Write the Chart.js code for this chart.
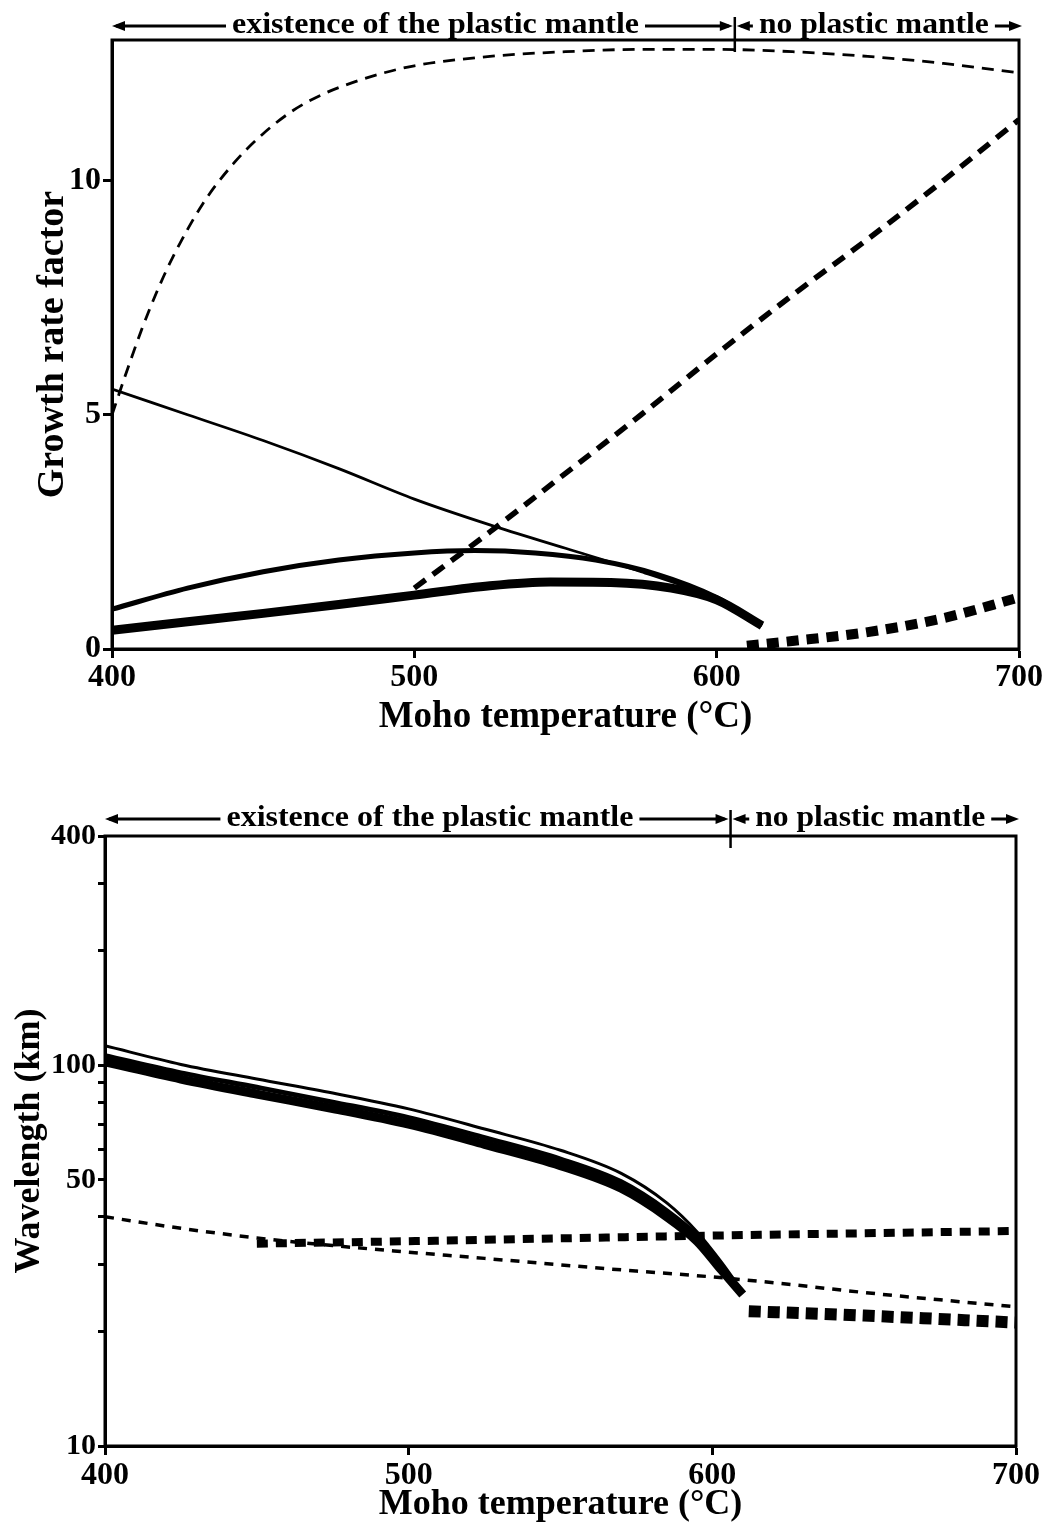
<!DOCTYPE html>
<html>
<head>
<meta charset="utf-8">
<script src="https://cdn.jsdelivr.net/npm/chart.js@4/dist/chart.umd.min.js"></script>
<style>
  html, body { margin: 0; padding: 0; background: #fff; }
  #wrap { position: relative; width: 1047px; height: 1533px; }
  canvas { position: absolute; left: 0; }
</style>
</head>
<body>
<div id="wrap">
  <canvas id="growthChart" width="1047" height="770" style="top:0px"></canvas>
  <canvas id="waveChart" width="1047" height="763" style="top:770px"></canvas>
</div>
<script>
// axis ticks
const tempTicks = [400, 500, 600, 700];
const growthTicks = [0, 5, 10];
const waveTicks = [10, 20, 30, 40, 50, 60, 70, 80, 90, 100, 200, 300, 400];
const waveLabels = [10, 50, 100, 400];
const plasticLimit = 606; // boundary plastic / no plastic mantle

// top panel - growth rate factor
const gThinDashT = [400, 405, 410, 415, 420, 430, 440, 450, 460, 470, 480, 490, 500, 525, 550, 575, 600, 625, 650, 675, 700];
const gThinDash = [5.0, 5.95, 6.85, 7.65, 8.35, 9.5, 10.35, 11.0, 11.5, 11.85, 12.1, 12.3, 12.45, 12.65, 12.75, 12.8, 12.8, 12.75, 12.65, 12.5, 12.3];
const gThinT = [400, 425, 450, 475, 500, 525, 550, 575, 595, 605, 615];
const gThin = [5.55, 5.0, 4.45, 3.85, 3.2, 2.65, 2.15, 1.65, 1.2, 0.9, 0.5];
const gMidT = [400, 425, 450, 475, 500, 520, 540, 560, 580, 600, 615];
const gMid = [0.85, 1.3, 1.65, 1.9, 2.05, 2.1, 2.05, 1.9, 1.6, 1.1, 0.5];
const gThickT = [400, 425, 450, 475, 500, 525, 545, 565, 585, 600, 615];
const gThick = [0.4, 0.58, 0.76, 0.95, 1.15, 1.35, 1.43, 1.42, 1.3, 1.05, 0.5];
const gDashT = [500, 525, 550, 575, 600, 625, 650, 675, 700];
const gDash = [1.3, 2.5, 3.75, 5.0, 6.3, 7.55, 8.75, 10.0, 11.3];
const gBigDashT = [610, 625, 650, 675, 700];
const gBigDash = [0.07, 0.17, 0.36, 0.66, 1.1];

// bottom panel - wavelength (km)
const wThinDashT = [400, 425, 450, 475, 500, 525, 550, 575, 600, 625, 650, 675, 700];
const wThinDash = [40, 37.3, 35.2, 33.6, 32.3, 31.1, 29.9, 28.8, 27.8, 26.6, 25.3, 24.2, 23.2];
const wSolidT = [400, 425, 450, 475, 500, 525, 550, 570, 585, 595, 603, 610];
const wThin = [112.5, 100.5, 92, 84.5, 76.8, 68, 59.8, 52, 43.5, 36.5, 30.4, 25.4];
const wMid = [106, 95.5, 87.5, 80, 72.8, 64.5, 56.7, 49.4, 41.5, 35.6, 29.7, 25.2];
const wThick = [102, 92, 84, 77, 70, 62, 54.5, 47.5, 40, 34.5, 29, 25];
const wDashT = [450, 500, 550, 600, 650, 700];
const wDash = [34.0, 34.5, 35.1, 35.7, 36.2, 36.7];
const wBigDashT = [612, 650, 700];
const wBigDash = [22.6, 22.0, 21.1];

const serif = 'Liberation Serif';
const pts = (xs, ys) => xs.map((x, i) => ({x: x, y: ys[i]}));

function line(xs, ys, width, dash) {
  return {
    data: pts(xs, ys),
    borderColor: '#000',
    borderWidth: width,
    borderDash: dash || [],
    borderCapStyle: 'butt',
    pointRadius: 0,
    tension: 0.4,
    cubicInterpolationMode: 'monotone'
  };
}

function arrowHead(ctx, x, y, dir) {
  ctx.beginPath();
  ctx.moveTo(x, y);
  ctx.lineTo(x - dir * 13, y - 5);
  ctx.lineTo(x - dir * 13, y + 5);
  ctx.closePath();
  ctx.fill();
}

function stretchText(ctx, text, cx, base, width) {
  const m = ctx.measureText(text).width;
  ctx.fillStyle = '#fff';
  ctx.fillRect(cx - width / 2 - 6, base - 30, width + 12, 28);
  ctx.fillStyle = '#000';
  ctx.save();
  ctx.translate(cx, base);
  ctx.scale(width / m, 1);
  ctx.fillText(text, 0, 0);
  ctx.restore();
}

// frame box + regime arrows above the plot
const framePlugin = {
  id: 'frame',
  afterDraw(chart, args, opts) {
    const ctx = chart.ctx, a = chart.chartArea, x = chart.scales.x;
    ctx.save();
    ctx.strokeStyle = '#000';
    ctx.fillStyle = '#000';
    ctx.lineWidth = 3;
    ctx.strokeRect(a.left, a.top, a.right - a.left, a.bottom - a.top);

    const ay = a.top - opts.gap;
    const xl = x.getPixelForValue(400), xm = x.getPixelForValue(plasticLimit), xr = x.getPixelForValue(700);
    ctx.lineWidth = 3;
    ctx.beginPath();
    ctx.moveTo(xl + 4, ay); ctx.lineTo(xm - 6, ay);
    ctx.moveTo(xm + 6, ay); ctx.lineTo(xr - 4, ay);
    ctx.stroke();
    arrowHead(ctx, xl, ay, -1);
    arrowHead(ctx, xm - 2, ay, 1);
    arrowHead(ctx, xm + 2, ay, -1);
    arrowHead(ctx, xr + 3, ay, 1);
    ctx.lineWidth = 2.5;
    ctx.beginPath();
    ctx.moveTo(xm, ay - 9); ctx.lineTo(xm, a.top + 12);
    ctx.stroke();

    ctx.font = 'bold 30px "' + serif + '"';
    ctx.textAlign = 'center';
    ctx.textBaseline = 'alphabetic';
    stretchText(ctx, 'existence of the plastic mantle', x.getPixelForValue(507), ay + 7, 407);
    stretchText(ctx, 'no plastic mantle', x.getPixelForValue(652), ay + 7, 230);
    ctx.restore();
  }
};

function xAxis(height, labelPad, titlePad, titleSize) {
  return {
    type: 'linear', min: 400, max: 700,
    afterFit: s => { s.height = height; },
    afterBuildTicks: s => { s.ticks = tempTicks.map(v => ({value: v})); },
    grid: { drawOnChartArea: false, tickLength: 9, tickWidth: 3, color: '#000' },
    border: { display: true, width: 3, color: '#000' },
    ticks: { color: '#000', padding: labelPad, maxRotation: 0,
             font: { family: serif, weight: 'bold', size: 32, lineHeight: 1 } },
    title: { display: true, text: 'Moho temperature (°C)', color: '#000',
             padding: { top: 0, bottom: titlePad },
             font: { family: serif, weight: 'bold', size: titleSize, lineHeight: 1 } }
  };
}

const common = {
  responsive: false,
  animation: false,
  devicePixelRatio: 1,
  events: [],
  plugins: { legend: { display: false }, tooltip: { enabled: false } }
};

new Chart(document.getElementById('growthChart'), {
  type: 'line',
  data: {
    datasets: [
      line(gThinDashT, gThinDash, 2.8, [12, 8]),
      line(gThinT, gThin, 2.8),
      line(gMidT, gMid, 5),
      line(gThickT, gThick, 9),
      line(gDashT, gDash, 5.5, [14, 9]),
      line(gBigDashT, gBigDash, 10, [12, 8])
    ]
  },
  options: Object.assign({}, common, {
    layout: { padding: { top: 40, right: 27, left: 0, bottom: 0 } },
    plugins: Object.assign({}, common.plugins, { frame: { gap: 14 } }),
    scales: {
      x: xAxis(121, 4, 34, 37),
      y: {
        type: 'linear', min: 0, max: 13,
        afterFit: s => { s.width = 112; },
        afterBuildTicks: s => { s.ticks = growthTicks.map(v => ({value: v})); },
        grid: { drawOnChartArea: false, tickLength: 9, tickWidth: 3, color: '#000' },
        border: { display: true, width: 3, color: '#000' },
        ticks: { color: '#000', padding: 2,
                 font: { family: serif, weight: 'bold', size: 32, lineHeight: 1 } },
        title: { display: true, text: 'Growth rate factor', color: '#000',
                 padding: { top: 34, bottom: 0 },
                 font: { family: serif, weight: 'bold', size: 38, lineHeight: 1 } }
      }
    }
  }),
  plugins: [framePlugin]
});

new Chart(document.getElementById('waveChart'), {
  type: 'line',
  data: {
    datasets: [
      line(wSolidT, wThin, 3),
      line(wSolidT, wMid, 5),
      line(wSolidT, wThick, 9),
      line(wThinDashT, wThinDash, 3.5, [9, 8]),
      line(wDashT, wDash, 8, [11, 8]),
      line(wBigDashT, wBigDash, 12, [12, 7])
    ]
  },
  options: Object.assign({}, common, {
    layout: { padding: { top: 66, right: 31, left: 0, bottom: 0 } },
    plugins: Object.assign({}, common.plugins, { frame: { gap: 17 } }),
    scales: {
      x: xAxis(87, 5, 10, 36),
      y: {
        type: 'logarithmic', min: 10, max: 400,
        afterFit: s => { s.width = 105; },
        afterBuildTicks: s => { s.ticks = waveTicks.map(v => ({value: v})); },
        grid: { drawOnChartArea: false, tickLength: 7, tickWidth: 3, color: '#000' },
        border: { display: true, width: 3, color: '#000' },
        ticks: { color: '#000', padding: 2, autoSkip: false,
                 callback: v => waveLabels.includes(v) ? String(v) : '',
                 font: { family: serif, weight: 'bold', size: 30, lineHeight: 1 } },
        title: { display: true, text: 'Wavelength (km)', color: '#000',
                 padding: { top: 12, bottom: 0 },
                 font: { family: serif, weight: 'bold', size: 36, lineHeight: 1 } }
      }
    }
  }),
  plugins: [framePlugin]
});
</script>
</body>
</html>
